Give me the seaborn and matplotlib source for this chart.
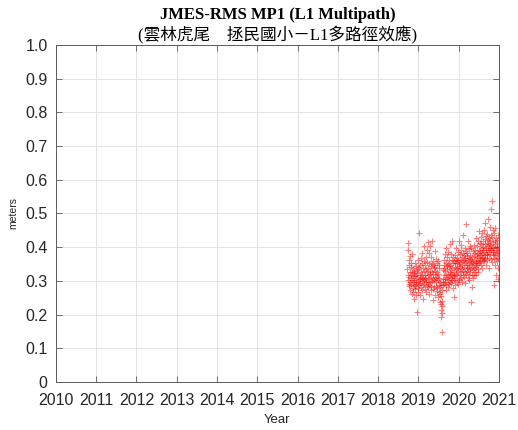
import numpy as np
import pandas as pd
import matplotlib
matplotlib.use("Agg")
import matplotlib.pyplot as plt
import seaborn as sns

# Chart text
title_line1 = "JMES-RMS MP1 (L1 Multipath)"
title_line2 = "(雲林虎尾\u3000拯民國小－L1多路徑效應)"
x_label = "Year"
y_label = "meters"
year_ticks = list(range(2010, 2022))
value_ticks = [0, 0.1, 0.2, 0.3, 0.4, 0.5, 0.6, 0.7, 0.8, 0.9, 1.0]
value_tick_labels = ["0", "0.1", "0.2", "0.3", "0.4", "0.5", "0.6", "0.7", "0.8", "0.9", "1.0"]

# Sampling schedule of the MP1 series (decimal year of first epoch, days between epochs)
first_epoch = 2018.73
epoch_step_days = 2.0

# MP1 RMS values (m), one row per month of observations
mp1_2018_10 = [0.334, 0.392, 0.303, 0.318, 0.412, 0.284, 0.347, 0.311, 0.363, 0.292, 0.326, 0.374, 0.298, 0.273, 0.341]
mp1_2018_11 = [0.307, 0.288, 0.352, 0.316, 0.262, 0.302, 0.381, 0.327, 0.279, 0.313, 0.338, 0.296, 0.268, 0.322, 0.287]
mp1_2018_12 = [0.301, 0.247, 0.329, 0.285, 0.314, 0.353, 0.276, 0.318, 0.258, 0.297, 0.344, 0.291, 0.309, 0.208, 0.331]
mp1_2019_01 = [0.323, 0.279, 0.362, 0.296, 0.335, 0.268, 0.306, 0.441, 0.287, 0.342, 0.304, 0.259, 0.348, 0.317, 0.293]
mp1_2019_02 = [0.312, 0.368, 0.282, 0.327, 0.299, 0.353, 0.272, 0.316, 0.384, 0.289, 0.308, 0.337, 0.246, 0.301, 0.359]
mp1_2019_03 = [0.328, 0.291, 0.403, 0.309, 0.277, 0.348, 0.318, 0.296, 0.372, 0.268, 0.336, 0.305, 0.392, 0.284, 0.327]
mp1_2019_04 = [0.357, 0.298, 0.414, 0.281, 0.339, 0.316, 0.383, 0.288, 0.307, 0.352, 0.262, 0.329, 0.402, 0.297, 0.319]
mp1_2019_05 = [0.343, 0.286, 0.371, 0.312, 0.274, 0.349, 0.326, 0.299, 0.418, 0.277, 0.321, 0.358, 0.242, 0.306, 0.338]
mp1_2019_06 = [0.302, 0.347, 0.281, 0.329, 0.388, 0.309, 0.258, 0.341, 0.286, 0.318, 0.366, 0.297, 0.271, 0.352, 0.311]
mp1_2019_07 = [0.327, 0.279, 0.358, 0.301, 0.253, 0.319, 0.288, 0.337, 0.267, 0.308, 0.346, 0.238, 0.296, 0.282, 0.262]
mp1_2019_08 = [0.287, 0.254, 0.231, 0.213, 0.192, 0.224, 0.148, 0.203, 0.241, 0.272, 0.306, 0.289, 0.331, 0.298, 0.348]
mp1_2019_09 = [0.318, 0.362, 0.291, 0.337, 0.306, 0.381, 0.297, 0.328, 0.273, 0.352, 0.316, 0.398, 0.288, 0.343, 0.309]
mp1_2019_10 = [0.334, 0.372, 0.302, 0.351, 0.283, 0.319, 0.387, 0.311, 0.344, 0.292, 0.363, 0.327, 0.298, 0.408, 0.321]
mp1_2019_11 = [0.348, 0.307, 0.379, 0.293, 0.332, 0.361, 0.302, 0.338, 0.418, 0.316, 0.279, 0.354, 0.313, 0.372, 0.326]
mp1_2019_12 = [0.303, 0.359, 0.318, 0.253, 0.341, 0.377, 0.308, 0.352, 0.287, 0.334, 0.398, 0.321, 0.362, 0.297, 0.339]
mp1_2020_01 = [0.368, 0.318, 0.353, 0.291, 0.387, 0.328, 0.362, 0.306, 0.344, 0.417, 0.302, 0.349, 0.381, 0.316, 0.357]
mp1_2020_02 = [0.338, 0.392, 0.309, 0.363, 0.327, 0.406, 0.348, 0.298, 0.371, 0.336, 0.384, 0.318, 0.358, 0.436, 0.329]
mp1_2020_03 = [0.361, 0.312, 0.377, 0.341, 0.399, 0.327, 0.368, 0.293, 0.352, 0.388, 0.319, 0.468, 0.357, 0.337, 0.382]
mp1_2020_04 = [0.329, 0.373, 0.346, 0.419, 0.308, 0.362, 0.338, 0.394, 0.317, 0.369, 0.348, 0.301, 0.403, 0.336, 0.359]
mp1_2020_05 = [0.378, 0.327, 0.364, 0.238, 0.351, 0.398, 0.318, 0.372, 0.342, 0.283, 0.357, 0.389, 0.331, 0.353, 0.308]
mp1_2020_06 = [0.362, 0.339, 0.384, 0.318, 0.407, 0.347, 0.373, 0.326, 0.392, 0.341, 0.359, 0.428, 0.352, 0.317, 0.379]
mp1_2020_07 = [0.372, 0.348, 0.402, 0.327, 0.383, 0.358, 0.419, 0.336, 0.391, 0.367, 0.447, 0.353, 0.378, 0.412, 0.361]
mp1_2020_08 = [0.388, 0.357, 0.431, 0.376, 0.346, 0.409, 0.368, 0.398, 0.338, 0.382, 0.442, 0.359, 0.393, 0.417, 0.372]
mp1_2020_09 = [0.401, 0.366, 0.452, 0.387, 0.358, 0.423, 0.378, 0.408, 0.472, 0.369, 0.397, 0.347, 0.432, 0.391, 0.376]
mp1_2020_10 = [0.413, 0.379, 0.438, 0.362, 0.402, 0.483, 0.387, 0.421, 0.368, 0.409, 0.338, 0.428, 0.392, 0.461, 0.398]
mp1_2020_11 = [0.381, 0.418, 0.512, 0.393, 0.437, 0.366, 0.407, 0.538, 0.398, 0.357, 0.429, 0.386, 0.452, 0.377, 0.416]
mp1_2020_12 = [0.398, 0.368, 0.441, 0.387, 0.288, 0.418, 0.376, 0.458, 0.347, 0.409, 0.392, 0.318, 0.427, 0.364, 0.402]
mp1_2021_01 = [0.379, 0.421, 0.358, 0.397, 0.306, 0.388, 0.436, 0.367, 0.339, 0.412, 0.383]

mp1_months = [
    mp1_2018_10, mp1_2018_11, mp1_2018_12,
    mp1_2019_01, mp1_2019_02, mp1_2019_03, mp1_2019_04, mp1_2019_05, mp1_2019_06,
    mp1_2019_07, mp1_2019_08, mp1_2019_09, mp1_2019_10, mp1_2019_11, mp1_2019_12,
    mp1_2020_01, mp1_2020_02, mp1_2020_03, mp1_2020_04, mp1_2020_05, mp1_2020_06,
    mp1_2020_07, mp1_2020_08, mp1_2020_09, mp1_2020_10, mp1_2020_11, mp1_2020_12,
    mp1_2021_01,
]
mp1 = np.concatenate([np.asarray(m, dtype=float) for m in mp1_months])
epochs = first_epoch + np.arange(len(mp1)) * epoch_step_days / 365.25
df = pd.DataFrame({"Year": epochs, "MP1": mp1})

sns.set_theme(style="whitegrid")
plt.rcParams["font.family"] = ["Liberation Sans", "DejaVu Sans"]

fig = plt.figure(figsize=(5.18, 4.30), dpi=100)
ax = fig.add_axes([0.108, 0.112, 0.855, 0.783])

sns.scatterplot(data=df, x="Year", y="MP1", ax=ax, marker="+", color="red",
                s=16, linewidth=0.8, alpha=0.5, legend=False, zorder=3)

ax.set_xlim(2010, 2021)
ax.set_ylim(0, 1)
ax.set_xticks(year_ticks)
ax.set_xticklabels([str(y) for y in year_ticks])
ax.set_yticks(value_ticks)
ax.set_yticklabels(value_tick_labels)

ax.set_facecolor("white")
ax.set_axisbelow(True)
ax.grid(True, color="#e3e3e3", linewidth=0.7)
for side in ["left", "right", "top", "bottom"]:
    ax.spines[side].set_visible(True)
    ax.spines[side].set_color("#5a5a5a")
    ax.spines[side].set_linewidth(0.7)
ax.tick_params(axis="both", which="both", direction="in", length=4, width=0.6,
               color="#5a5a5a", labelsize=11.5, labelcolor="#262626",
               top=True, right=True, bottom=True, left=True)
ax.tick_params(axis="x", pad=8)
ax.tick_params(axis="y", pad=6)

ax.set_xlabel(x_label, fontsize=9.5, color="#262626", labelpad=4)
ax.set_ylabel(y_label, fontsize=7.5, color="#262626", labelpad=5)

title_x = 0.108 + 0.855 / 2
fig.text(title_x, 0.965, title_line1, ha="center", va="center", fontsize=12,
         fontweight="bold", family=["Liberation Serif", "DejaVu Serif"], color="black")
fig.text(title_x, 0.918, title_line2, ha="center", va="center", fontsize=12,
         family=["Liberation Serif", "Noto Sans CJK TC", "DejaVu Sans"], color="black")

fig.savefig("out.png", dpi=100)
